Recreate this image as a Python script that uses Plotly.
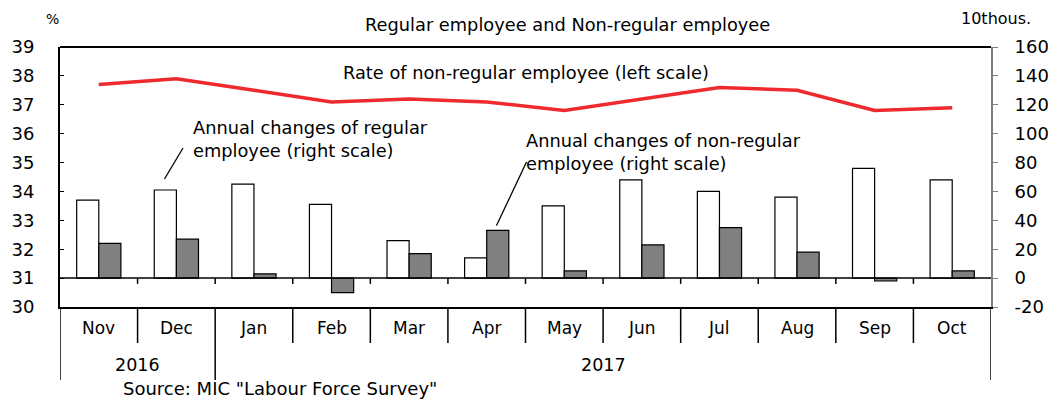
import plotly.graph_objects as go

months = ["Nov", "Dec", "Jan", "Feb", "Mar", "Apr", "May", "Jun", "Jul", "Aug", "Sep", "Oct"]
years = ["2016", "2017"]
year_spans = [(0, 1), (2, 11)]
regular = [54, 61, 65, 51, 26, 14, 50, 68, 60, 56, 76, 68]
nonregular = [24, 27, 3, -10, 17, 33, 5, 23, 35, 18, -2, 5]
rate = [37.7, 37.9, 37.5, 37.1, 37.2, 37.1, 36.8, 37.2, 37.6, 37.5, 36.8, 36.9]
left_ticks = list(range(30, 40))
right_ticks = list(range(-20, 161, 20))
right_tick_labels = [str(v) for v in right_ticks]

# figure fills the page (body margin removed in post_script)
OX, OY = 0, 0
W, H = 1048, 403
PL, PR, PT, PB = 60, 991, 47, 307  # plot area in page pixels
L, R, T, B = PL - OX, (OX + W) - PR, PT - OY, (OY + H) - PB
PW, PH = PR - PL, PB - PT
FONT = "DejaVu Sans"


def px(x):
    return (x - PL) / PW


def py(y):
    return (PB - y) / PH


x = list(range(len(months)))
fig = go.Figure()
fig.add_trace(go.Bar(x=x, y=regular, yaxis="y2", marker=dict(color="white", line=dict(color="black", width=1.2)),
                     name="Regular", showlegend=False, hoverinfo="skip"))
fig.add_trace(go.Bar(x=x, y=nonregular, yaxis="y2", marker=dict(color="#808080", line=dict(color="black", width=1.2)),
                     name="Non-regular", showlegend=False, hoverinfo="skip"))
fig.add_trace(go.Scatter(x=x, y=rate, mode="lines", line=dict(color="#ee2a2f", width=3.5),
                         name="Rate", showlegend=False, hoverinfo="skip"))

shapes = []
# top border
shapes.append(dict(type="line", xref="paper", yref="paper", x0=0, x1=1, y0=1, y1=1,
                   line=dict(color="black", width=2)))
# zero line
shapes.append(dict(type="line", xref="paper", yref="y2", x0=0, x1=1, y0=0, y1=0,
                   line=dict(color="black", width=1.5)))
# small ticks on zero line at month boundaries
for k in range(1, len(months)):
    shapes.append(dict(type="line", xref="x", yref="y2", x0=k - 0.5, x1=k - 0.5, y0=0, y1=-4,
                       line=dict(color="black", width=1.5)))
# month separators below axis
year_bounds = set([s for s, e in year_spans] + [year_spans[-1][1] + 1])
for k in range(len(months) + 1):
    ybot = py(380) if k in year_bounds else py(343)
    shapes.append(dict(type="line", xref="x", yref="paper", x0=k - 0.5, x1=k - 0.5, y0=0, y1=ybot,
                       line=dict(color="black", width=1.5)))
# leader lines
shapes.append(dict(type="line", xref="paper", yref="paper", x0=px(183), y0=py(148), x1=px(164.5), y1=py(179),
                   line=dict(color="black", width=1.3)))
shapes.append(dict(type="line", xref="paper", yref="paper", x0=px(526.5), y0=py(162), x1=px(496.5), y1=py(225.5),
                   line=dict(color="black", width=1.3)))

TXT = 17.8


def note(xp, yp, text, size, xanchor="center", xref="paper"):
    return dict(x=xp, y=yp, xref=xref, yref="paper", text=text, showarrow=False,
                xanchor=xanchor, yanchor="middle", align="left",
                font=dict(size=size, color="black", family=FONT))


annotations = []
for i, m in enumerate(months):
    annotations.append(note(i, py(328), m, 17, xref="x"))
for yr, (s, e) in zip(years, year_spans):
    annotations.append(note((s + e) / 2, py(365), yr, 17.5, xref="x"))
annotations += [
    note(px(567), py(24), "Regular employee and Non-regular employee", TXT),
    note(px(52.5), py(19), "%", 14),
    note(px(996), py(19), "10thous.", 16),
    note(px(341), py(72), "Rate of non-regular employee (left scale)", TXT, xanchor="left"),
    note(px(191), py(139), "Annual changes of regular<br>employee (right scale)", TXT, xanchor="left"),
    note(px(524), py(152), "Annual changes of non-regular<br>employee (right scale)", TXT, xanchor="left"),
    note(px(121), py(388), 'Source: MIC "Labour Force Survey"', 18, xanchor="left"),
]

fig.update_layout(
    width=W, height=H,
    margin=dict(l=L, r=R, t=T, b=B, pad=0, autoexpand=False),
    paper_bgcolor="white", plot_bgcolor="white",
    barmode="group", bargap=0.43, bargroupgap=0,
    font=dict(family=FONT, color="black"),
    hovermode=False,
    xaxis=dict(range=[-0.5, len(months) - 0.5], showticklabels=False, ticks="", showgrid=False,
               zeroline=False, showline=True, linecolor="black", linewidth=2, automargin=False),
    yaxis=dict(range=[30, 39], tickvals=left_ticks, showgrid=False, zeroline=False,
               showline=True, linecolor="black", linewidth=2, ticks="inside", ticklen=4,
               tickcolor="black", ticklabelstandoff=20, automargin=False,
               tickfont=dict(size=18, family=FONT, color="black")),
    yaxis2=dict(range=[-20, 160], tickvals=right_ticks, ticktext=right_tick_labels,
                overlaying="y", side="right",
                showgrid=False, zeroline=False, showline=True, linecolor="#808080", linewidth=2,
                ticks="outside", ticklen=5, tickcolor="#808080", ticklabelstandoff=13, automargin=False,
                tickfont=dict(size=18, family=FONT, color="black")),
    shapes=shapes,
    annotations=annotations,
)

fig.write_html("out.html", config={"displayModeBar": False, "staticPlot": True},
               post_script="document.body.style.margin='0';document.body.style.overflow='hidden';")
